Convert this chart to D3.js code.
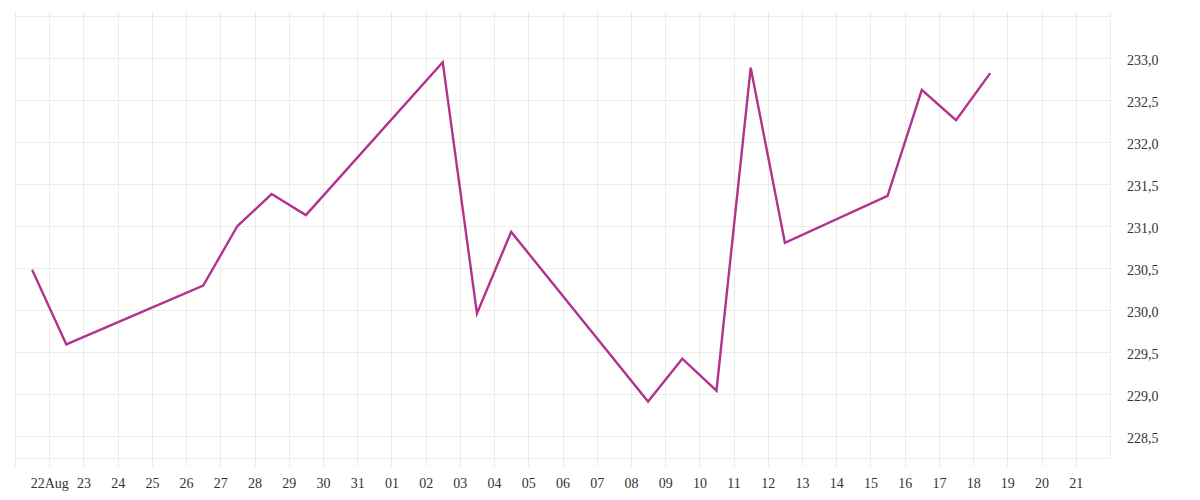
<!DOCTYPE html>
<html>
<head>
<meta charset="utf-8">
<script src="https://cdn.jsdelivr.net/npm/d3@7/dist/d3.min.js"></script>
<style>
  html, body { margin: 0; padding: 0; background: #ffffff; }
  svg { display: block; }
  .lbl { font-family: "Liberation Serif", serif; font-size: 14px; fill: #333333; }
</style>
</head>
<body>
<svg id="chart" width="1200" height="500"></svg>
<script>
// ---- data ----
const dates = ["2024-08-21","2024-08-22","2024-08-26","2024-08-27","2024-08-28","2024-08-29",
               "2024-09-02","2024-09-03","2024-09-04","2024-09-08","2024-09-09","2024-09-10",
               "2024-09-11","2024-09-12","2024-09-15","2024-09-16","2024-09-17","2024-09-18"];
const values = [230.48, 229.59, 230.29, 231.00, 231.38, 231.13,
                232.95, 229.96, 230.93, 228.91, 229.42, 229.04,
                232.885, 230.80, 231.36, 232.62, 232.26, 232.82];
const xTickDates = ["2024-08-22","2024-08-23","2024-08-24","2024-08-25","2024-08-26","2024-08-27",
                    "2024-08-28","2024-08-29","2024-08-30","2024-08-31","2024-09-01","2024-09-02",
                    "2024-09-03","2024-09-04","2024-09-05","2024-09-06","2024-09-07","2024-09-08",
                    "2024-09-09","2024-09-10","2024-09-11","2024-09-12","2024-09-13","2024-09-14",
                    "2024-09-15","2024-09-16","2024-09-17","2024-09-18","2024-09-19","2024-09-20",
                    "2024-09-21"];
const xTickLabels = ["22Aug","23","24","25","26","27","28","29","30","31","01","02","03","04","05",
                     "06","07","08","09","10","11","12","13","14","15","16","17","18","19","20","21"];
const yTicks = [228.5, 229.0, 229.5, 230.0, 230.5, 231.0, 231.5, 232.0, 232.5, 233.0];
const yTickLabels = ["228,5","229,0","229,5","230,0","230,5","231,0","231,5","232,0","232,5","233,0"];
const xDomain = ["2024-08-21","2024-09-22"];
const yTop = 233.5;

// ---- layout ----
const pLeft = 15, pRight = 1110, pTop = 16, pBottom = 458;
const parse = d3.timeParse("%Y-%m-%d");
const svg = d3.select("#chart");

const x = d3.scaleTime().domain(xDomain.map(parse)).range([pLeft, pRight]);
const y = d3.scaleLinear().domain([228.5, yTop]).range([436, pTop]);

const grid = svg.append("g");
grid.selectAll("line.h").data(yTicks.concat([yTop])).join("line")
  .attr("x1", pLeft).attr("x2", pRight)
  .attr("y1", d => Math.round(y(d)) + 0.5).attr("y2", d => Math.round(y(d)) + 0.5)
  .attr("stroke", "#ececec").attr("stroke-width", 1);
grid.append("line").attr("x1", pLeft).attr("x2", pRight)
  .attr("y1", pBottom + 0.5).attr("y2", pBottom + 0.5)
  .attr("stroke", "#ececec");
const vDates = [xDomain[0]].concat(xTickDates).concat([xDomain[1]]);
grid.selectAll("line.v").data(vDates).join("line")
  .attr("x1", d => Math.round(x(parse(d))) + 0.5).attr("x2", d => Math.round(x(parse(d))) + 0.5)
  .attr("y1", pTop - 4).attr("y2", (d, i) => (i === vDates.length - 1 ? pBottom + 1 : pBottom + 9))
  .attr("stroke", "#ececec").attr("stroke-width", 1);

svg.append("g").selectAll("text").data(xTickDates).join("text")
  .attr("class", "lbl")
  .attr("x", d => x(parse(d)) + 0.5)
  .attr("y", 488)
  .attr("text-anchor", "middle")
  .text((d, i) => xTickLabels[i]);

svg.append("g").selectAll("text").data(yTicks).join("text")
  .attr("class", "lbl")
  .attr("x", 1127)
  .attr("y", d => y(d) + 7)
  .attr("text-anchor", "start")
  .text((d, i) => yTickLabels[i]);

const pts = dates.map((d, i) => ({ t: d3.timeHour.offset(parse(d), 12), v: values[i] }));
svg.append("path")
  .datum(pts)
  .attr("fill", "none")
  .attr("stroke", "#b3328b")
  .attr("stroke-width", 2.4)
  .attr("stroke-linejoin", "miter")
  .attr("d", d3.line().x(d => x(d.t)).y(d => y(d.v)));
</script>
</body>
</html>
